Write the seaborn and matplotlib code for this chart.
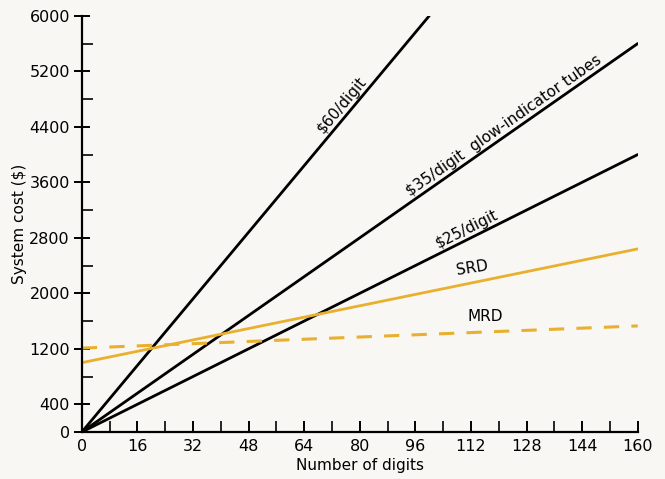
import numpy as np
import pandas as pd
import matplotlib
matplotlib.use("Agg")
import matplotlib.pyplot as plt
import seaborn as sns

# line endpoints: (digits, system cost $)
digits_60 = [0, 100]
cost_60 = [0, 6000]
digits_35 = [0, 160]
cost_35 = [0, 5600]
digits_25 = [0, 160]
cost_25 = [0, 4000]
digits_srd = [0, 160]
cost_srd = [1000, 2640]
digits_mrd = [0, 160]
cost_mrd = [1210, 1530]

x_ticks = [0, 16, 32, 48, 64, 80, 96, 112, 128, 144, 160]
y_ticks = [0, 400, 1200, 2000, 2800, 3600, 4400, 5200, 6000]
y_minor = [800, 1600, 2400, 3200, 4000, 4800, 5600]

orange = "#E9B02F"
paper = "#F8F7F3"

sns.set_style("ticks")
plt.rcParams["font.family"] = ["DejaVu Sans"]
plt.rcParams["text.color"] = "black"
plt.rcParams["axes.labelcolor"] = "black"

fig = plt.figure(figsize=(6.65, 4.79), dpi=100, facecolor=paper)
ax = fig.add_axes([0.123, 0.098, 0.836, 0.869])
ax.set_facecolor(paper)

sns.lineplot(x=digits_60, y=cost_60, ax=ax, color="black", lw=2)
sns.lineplot(x=digits_35, y=cost_35, ax=ax, color="black", lw=2)
sns.lineplot(x=digits_25, y=cost_25, ax=ax, color="black", lw=2)
sns.lineplot(x=digits_srd, y=cost_srd, ax=ax, color=orange, lw=2)
sns.lineplot(x=digits_mrd, y=cost_mrd, ax=ax, color=orange, lw=2.2,
             linestyle=(0, (5, 4)))

ax.set_xlim(0, 160)
ax.set_ylim(0, 6000)
sns.despine(ax=ax)
for s in ["left", "bottom"]:
    ax.spines[s].set_linewidth(1.6)
    ax.spines[s].set_color("black")

ax.set_xticks(x_ticks)
ax.set_xticks(np.arange(8, 160, 16), minor=True)
ax.set_yticks(y_ticks)
ax.set_yticks(y_minor, minor=True)
ax.tick_params(axis="both", which="major", direction="inout", length=11,
               width=1.4, labelsize=11.5, colors="black")
ax.tick_params(axis="x", which="major", direction="in", length=8, pad=5)
ax.tick_params(axis="y", which="major", pad=3)
ax.tick_params(axis="both", which="minor", direction="in", length=8, width=1.4)
ax.set_xlabel("Number of digits", fontsize=11, labelpad=3)
ax.set_ylabel("System cost ($)", fontsize=11, labelpad=2)


def angle_of(xs, ys):
    p = ax.transData.transform(np.column_stack([xs, ys]))
    return np.degrees(np.arctan2(p[1, 1] - p[0, 1], p[1, 0] - p[0, 0]))


def line_label(txt, x, xs, ys, rot=None, dy=2):
    y = np.interp(x, xs, ys)
    ang = angle_of(xs, ys) if rot is None else rot
    # shift a few pixels perpendicular to the line so the text sits on it
    px, py = ax.transData.transform((x, y))
    t = np.radians(ang)
    px, py = px - dy * np.sin(t), py + dy * np.cos(t)
    x2, y2 = ax.transData.inverted().transform((px, py))
    ax.text(x2, y2, txt, rotation=ang, rotation_mode="anchor",
            ha="center", va="bottom", fontsize=11)


line_label("$60/digit", 77, digits_60, cost_60)
line_label("$35/digit  glow-indicator tubes", 123, digits_35, cost_35)
line_label("$25/digit", 112, digits_25, cost_25)
line_label("SRD", 113, digits_srd, cost_srd, rot=9, dy=7)
line_label("MRD", 116, digits_mrd, cost_mrd, rot=0, dy=8)

fig.savefig("out.png", dpi=100, facecolor=paper)
